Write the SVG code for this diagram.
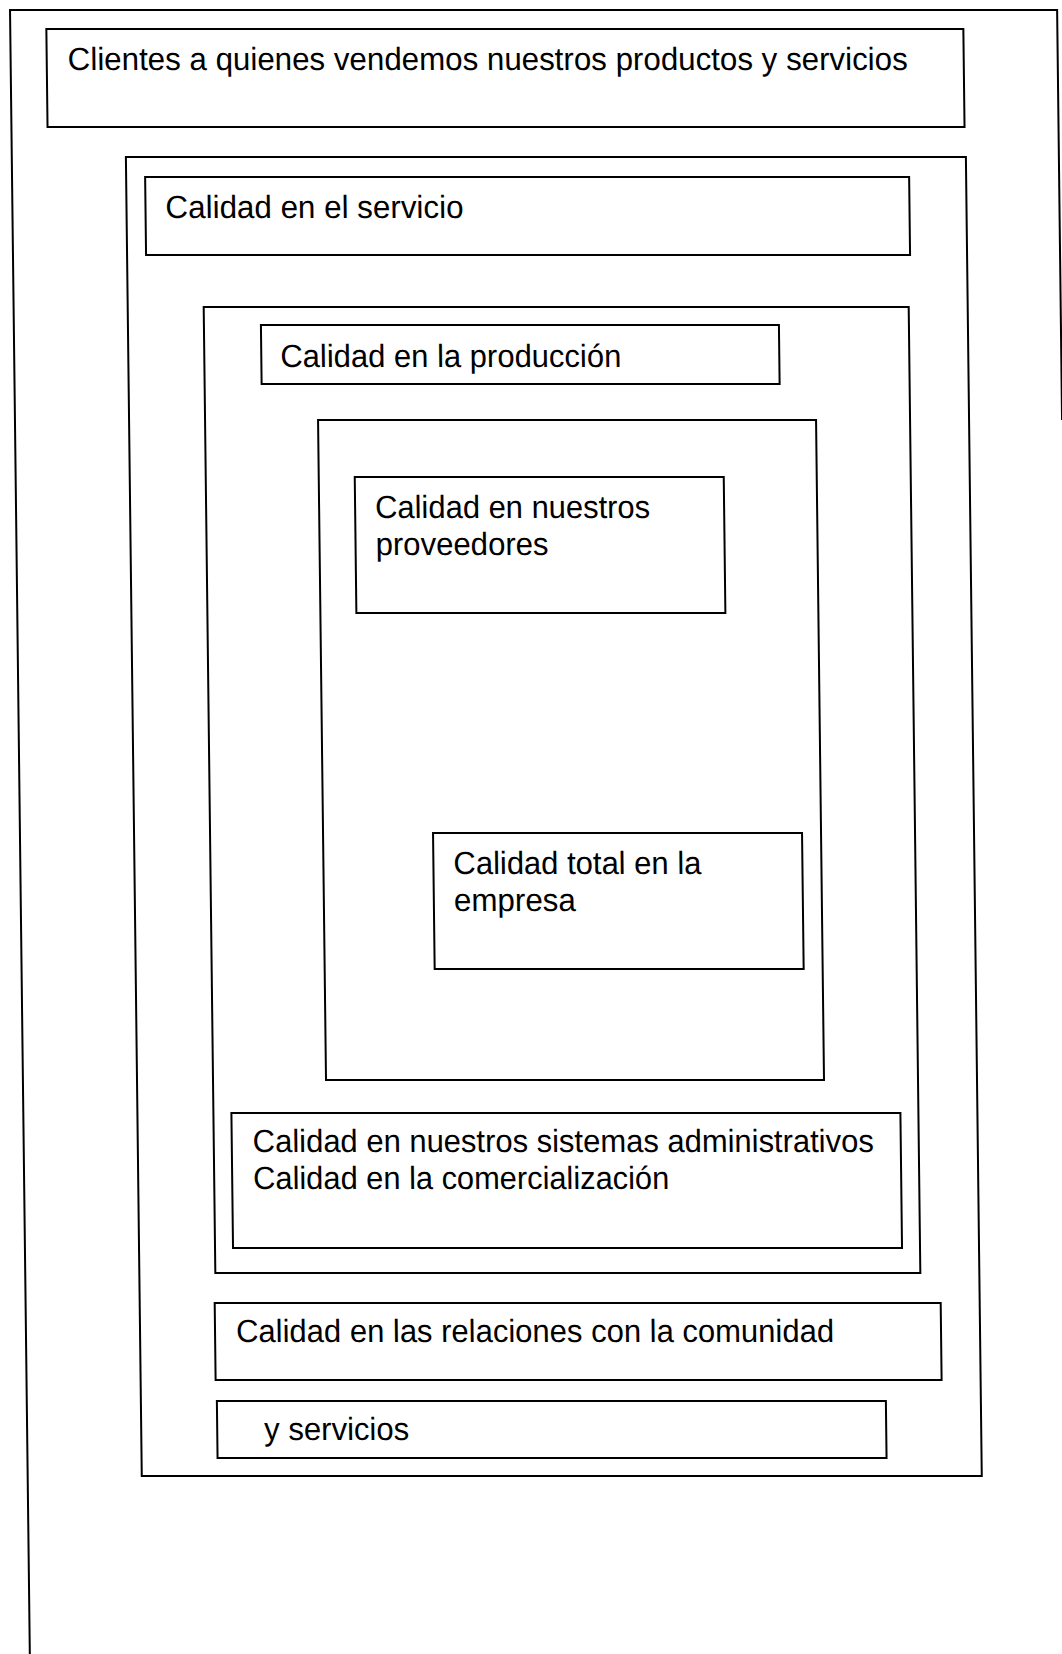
<svg xmlns="http://www.w3.org/2000/svg" width="1062" height="1654" viewBox="0 0 1062 1654">
  <style>
    .box { fill: none; stroke: #000; stroke-width: 2; }
    .lbl { font-family: "Liberation Sans", Arial, sans-serif; font-size: 32px; fill: #000; }
  </style>
  <rect x="0" y="0" width="1062" height="1654" fill="#fff"/>
  <g transform="skewX(0.69)">
    <g id="page-frame">
      <path class="box" d="M9.9,1670 L9.9,10 L1057,10 L1057,420"/>
    </g>
    <g id="clientes">
      <rect class="box" x="46" y="29" width="917" height="98"/>
      <text class="lbl" x="67" y="70" textLength="840" lengthAdjust="spacingAndGlyphs">Clientes a quienes vendemos nuestros productos y servicios</text>
    </g>
    <g id="servicio-frame">
      <rect class="box" x="124" y="157" width="840" height="1319"/>
    </g>
    <g id="servicio">
      <rect class="box" x="143" y="177" width="764" height="78"/>
      <text class="lbl" x="163" y="218" textLength="298" lengthAdjust="spacingAndGlyphs">Calidad en el servicio</text>
    </g>
    <g id="produccion-frame">
      <rect class="box" x="200" y="307" width="705" height="966"/>
    </g>
    <g id="produccion">
      <rect class="box" x="257" y="325" width="518" height="59"/>
      <text class="lbl" x="276" y="367" textLength="341" lengthAdjust="spacingAndGlyphs">Calidad en la producción</text>
    </g>
    <g id="proveedores-frame">
      <rect class="box" x="313" y="420" width="498" height="660"/>
    </g>
    <g id="proveedores">
      <rect class="box" x="349" y="477" width="369" height="136"/>
      <text class="lbl" x="369" y="518" textLength="275" lengthAdjust="spacingAndGlyphs">Calidad en nuestros</text>
      <text class="lbl" x="369" y="555" textLength="173" lengthAdjust="spacingAndGlyphs">proveedores</text>
    </g>
    <g id="total">
      <rect class="box" x="423" y="833" width="369" height="136"/>
      <text class="lbl" x="443" y="874" textLength="248" lengthAdjust="spacingAndGlyphs">Calidad total en la</text>
      <text class="lbl" x="443" y="911" textLength="122" lengthAdjust="spacingAndGlyphs">empresa</text>
    </g>
    <g id="administrativos">
      <rect class="box" x="218" y="1113" width="669" height="135"/>
      <text class="lbl" x="239" y="1152" textLength="621" lengthAdjust="spacingAndGlyphs">Calidad en nuestros sistemas administrativos</text>
      <text class="lbl" x="239" y="1189" textLength="416" lengthAdjust="spacingAndGlyphs">Calidad en la comercialización</text>
    </g>
    <g id="comunidad">
      <rect class="box" x="199" y="1303" width="726" height="77"/>
      <text class="lbl" x="220" y="1342" textLength="598" lengthAdjust="spacingAndGlyphs">Calidad en las relaciones con la comunidad</text>
    </g>
    <g id="y-servicios">
      <rect class="box" x="200" y="1401" width="669" height="57"/>
      <text class="lbl" x="247" y="1440" textLength="145" lengthAdjust="spacingAndGlyphs">y servicios</text>
    </g>
    <g id="connectors"/>
  </g>
</svg>
